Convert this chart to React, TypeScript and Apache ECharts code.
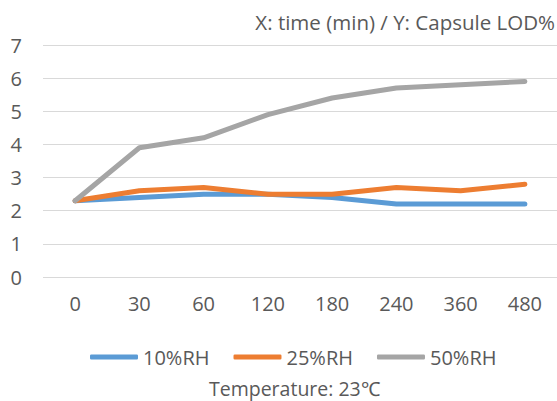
import React, { useEffect, useRef } from "react";
import * as echarts from "echarts";

const categories = ["0", "30", "60", "120", "180", "240", "360", "480"];
const rh10 = [2.3, 2.4, 2.5, 2.5, 2.4, 2.2, 2.2, 2.2];
const rh25 = [2.3, 2.6, 2.7, 2.5, 2.5, 2.7, 2.6, 2.8];
const rh50 = [2.3, 3.9, 4.2, 4.9, 5.4, 5.7, 5.8, 5.9];
const seriesNames = ["10%RH", "25%RH", "50%RH"];
const colors = ["#5B9BD5", "#ED7D31", "#A5A5A5"];

const FONT = "'Open Sans', sans-serif";
const TXT = "#595959";
const FS = 20;

export default function App() {
  const ref = useRef<HTMLDivElement>(null);
  useEffect(() => {
    if (!ref.current) return;
    const chart = echarts.init(ref.current, undefined, { renderer: "svg" });
    const data = [rh10, rh25, rh50];
    chart.setOption({
      animation: false,
      textStyle: { fontFamily: FONT },
      title: [
        {
          text: "X: time (min) / Y: Capsule LOD%",
          right: -3,
          top: 6,
          textStyle: { color: TXT, fontSize: 20.5, fontWeight: "normal", fontFamily: FONT },
        },
        {
          text: "Temperature: 23℃",
          left: 204,
          top: 373,
          textStyle: { color: TXT, fontSize: 19.5, fontWeight: "normal", fontFamily: FONT },
        },
      ],
      legend: {
        data: seriesNames,
        top: 342,
        left: 85,
        icon: "roundRect",
        itemWidth: 48,
        itemHeight: 5,
        itemGap: 24,
        textStyle: { color: TXT, fontSize: FS, fontFamily: FONT },
      },
      grid: { left: 43, right: 0, top: 45, bottom: 124 },
      xAxis: {
        type: "category",
        data: categories,
        boundaryGap: true,
        axisLine: { show: false },
        axisTick: { show: false },
        axisLabel: { color: TXT, fontSize: FS, margin: 16, fontFamily: FONT },
      },
      yAxis: {
        type: "value",
        min: 0,
        max: 7,
        interval: 1,
        axisLine: { show: false },
        axisTick: { show: false },
        axisLabel: { color: TXT, fontSize: FS, margin: 21, fontFamily: FONT },
        splitLine: { lineStyle: { color: "#D9D9D9", width: 1 } },
      },
      series: seriesNames.map((n, i) => ({
        name: n,
        type: "line",
        data: data[i],
        symbol: "none",
        color: colors[i],
        lineStyle: { color: colors[i], width: 5, cap: "round", join: "round" },
      })),
    });
    return () => chart.dispose();
  }, []);
  return (
    <div
      ref={ref}
      style={{ position: "fixed", left: 0, top: 0, width: 557, height: 401, background: "#fff" }}
    />
  );
}
